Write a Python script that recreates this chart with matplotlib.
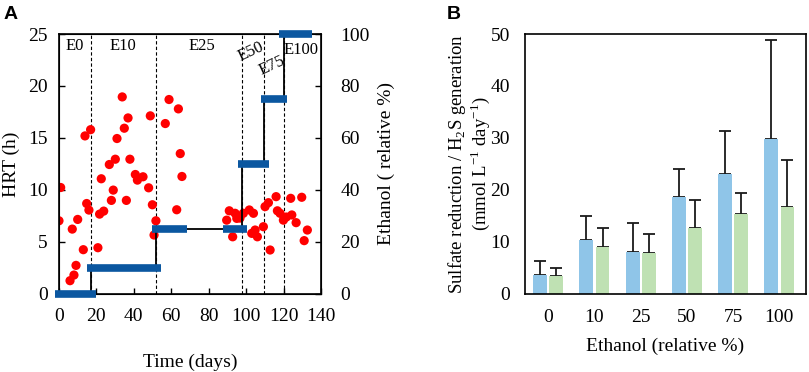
import matplotlib.pyplot as plt
import numpy as np

plt.rcParams['font.family'] = 'Liberation Serif'
plt.rcParams['mathtext.fontset'] = 'custom'
plt.rcParams['mathtext.rm'] = 'Liberation Serif'

# === Panel A: HRT points (days, hours) ===
hrt_days = [0, 0.9, 5.9, 7.1, 8.0, 9.1, 10.0, 13.0, 13.9, 14.8, 16.0, 16.9,
            20.8, 21.7, 22.6, 23.9, 26.9, 28.0, 29.0, 30.1, 31.0, 33.8, 34.9,
            36.0, 36.9, 37.9, 40.8, 41.9, 44.9, 47.9, 48.8, 49.9, 50.8, 51.8,
            56.8, 58.8, 62.9, 63.8, 64.8, 65.7,
            89.6, 91.0, 94.1, 92.8, 95.0, 98.5, 101.7, 103.9, 103.0, 104.8,
            106.0, 109.2, 110.1, 111.9, 112.8, 116.0, 116.7, 118.1, 119.9,
            123.8, 124.4, 126.7, 129.7, 131.0, 132.7, 96.7, 121.5]
hrt_vals = [7.04, 10.24, 1.28, 6.24, 1.82, 2.75, 7.17, 4.26, 15.2, 8.7, 8.07, 15.8,
            4.45, 7.68, 11.08, 7.97, 12.45, 9.0, 9.99, 12.96, 14.95, 18.95, 15.94,
            9.0, 16.93, 12.96, 11.49, 10.95, 11.27, 10.21, 17.13, 8.58, 5.67, 7.04,
            16.39, 18.7, 8.1, 17.8, 13.5, 11.3,
            7.1, 8.0, 7.76, 5.5, 7.27, 7.76, 8.08, 7.76, 5.83, 6.15,
            5.5, 6.47, 8.4, 8.78, 4.23, 9.36, 8.0, 7.76, 7.1,
            9.2, 7.6, 6.86, 9.3, 5.13, 6.15, 7.3, 7.4]

# ethanol step (relative %)
step_days = [0, 17, 17, 52, 52, 97.6, 97.6, 109.7, 109.7, 120, 120]
step_eth = [0, 0, 10, 10, 25, 25, 50, 50, 75, 75, 100]

# blue set-point segments: (start, end, ethanol)
seg_start = [-2.0, 14.8, 49.5, 87.5, 95.8, 107.8, 117.7]
seg_end = [19.6, 54.3, 68.2, 100.3, 112.2, 122.0, 135.4]
seg_eth = [0, 10, 25, 25, 50, 75, 100]

phase_bounds = [17, 52, 97.6, 109.7, 120]
phase_labels = ['E0', 'E10', 'E25', 'E50', 'E75', 'E100']
phase_x = [8.5, 34.4, 76.6, 102.6, 113.8, 129.5]
phase_y = [23.85, 23.85, 23.85, 23.3, 22.0, 23.5]
phase_rot = [0, 0, 0, 25, 25, 0]

# === Panel B: bars ===
eth_cats = ['0', '10', '25', '50', '75', '100']
sulfate = [3.7, 10.4, 8.05, 18.65, 23.05, 29.8]
sulfate_err = [2.7, 4.6, 5.55, 5.45, 8.25, 19.1]
h2s = [3.5, 9.0, 7.85, 12.6, 15.3, 16.8]
h2s_err = [1.5, 3.7, 3.65, 5.4, 4.05, 8.9]

fig = plt.figure(figsize=(8.09, 3.72), dpi=100)

# ---- A ----
ax = fig.add_axes([0.0729, 0.2097, 0.3239, 0.6989])
ax.scatter(hrt_days, hrt_vals, s=44, color='#ff0000', zorder=3, edgecolors='none')
ax.set_xlim(0, 140)
ax.set_ylim(0, 25)
ax.set_xticks(range(0, 141, 20))
ax.set_yticks(range(0, 26, 5))
ax.tick_params(direction='in', labelsize=14, length=4, width=1)
ax.tick_params(axis='x', pad=10)
ax.tick_params(axis='y', pad=8)
ax.set_xlabel('Time (days)', fontsize=14, labelpad=21)
ax.set_ylabel('HRT (h)', fontsize=14, labelpad=6)
for b in phase_bounds:
    ax.axvline(b, color='black', ls='--', lw=0.8, dashes=(3, 2))
for lab, xx, yy, r in zip(phase_labels, phase_x, phase_y, phase_rot):
    ax.text(xx, yy, lab, fontsize=12, ha='center', va='center', rotation=r)
for s in ax.spines.values():
    s.set_linewidth(1.2)

ax2 = ax.twinx()
ax2.plot(step_days, step_eth, color='black', lw=1.3, zorder=2)
for s0, s1, e in zip(seg_start, seg_end, seg_eth):
    ax2.plot([s0, s1], [e, e], color='#0b57a0', lw=5.5, solid_capstyle='butt',
             zorder=4, clip_on=False)
ax2.set_ylim(0, 100)
ax2.set_yticks(range(0, 101, 20))
ax2.tick_params(direction='in', labelsize=14, length=4, width=1, pad=14)
ax2.set_ylabel('Ethanol ( relative %)', fontsize=14, labelpad=6)

fig.text(0.004, 0.985, 'A', fontsize=14, fontweight='bold', family='Liberation Sans',
         va='top')

# ---- B ----
bx = fig.add_axes([0.649, 0.2097, 0.347, 0.6989])
x = np.arange(len(eth_cats))
w = 0.3
bx.bar(x - 0.175, sulfate, w, color='#8fc5e8', zorder=2)
bx.errorbar(x - 0.175, sulfate, yerr=[np.zeros(6), sulfate_err], fmt='none',
            ecolor='#1a1a1a', elinewidth=1.3, capsize=4, capthick=1.3, zorder=1)
bx.bar(x + 0.175, h2s, w, color='#bfe1b3', zorder=2)
bx.errorbar(x + 0.175, h2s, yerr=[np.zeros(6), h2s_err], fmt='none',
            ecolor='#1a1a1a', elinewidth=1.3, capsize=4, capthick=1.3, zorder=1)
bx.set_xlim(-0.5, 5.57)
bx.set_ylim(0, 50)
bx.set_xticks(x)
bx.set_xticklabels(eth_cats)
bx.set_yticks(range(0, 51, 10))
bx.tick_params(axis='x', length=0, labelsize=14, pad=11)
bx.tick_params(axis='y', length=0, labelsize=14, pad=11)
bx.set_xlabel('Ethanol (relative %)', fontsize=14, labelpad=8)
bx.set_ylabel('Sulfate reduction / H$_2$S generation\n(mmol L$^{-1}$ day$^{-1}$)',
              fontsize=13.5, labelpad=-1, linespacing=1.0)
for s in bx.spines.values():
    s.set_linewidth(1.2)

fig.text(0.552, 0.985, 'B', fontsize=14, fontweight='bold', family='Liberation Sans',
         va='top')

fig.savefig('out.png', dpi=100)
